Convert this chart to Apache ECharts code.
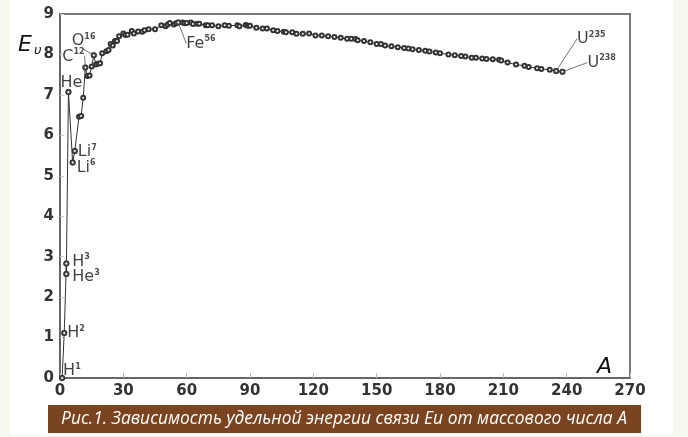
<!DOCTYPE html>
<html>
<head>
<meta charset="utf-8">
<script src="https://cdn.jsdelivr.net/npm/echarts@6/dist/echarts.min.js"></script>
<style>
  html, body { margin: 0; padding: 0; background: #f7f7ee; }
  #chart { width: 688px; height: 437px; }
</style>
</head>
<body>
<div id="chart"></div>
<script>
// mass number A and specific binding energy Eu (MeV)
var massNumber = [1, 2, 3, 3, 4, 6, 7, 9, 10, 11, 12, 13, 14, 15, 16, 17, 18, 19, 20, 22,
  23, 24, 25, 26, 27, 28, 30, 31, 32, 34, 35, 37, 39, 40, 42, 45, 48, 50, 51, 52,
  54, 55, 56, 58, 59, 60, 62, 63, 65, 66, 69, 70, 72, 75, 78, 80, 84, 85, 88, 89,
  90, 93, 96, 98, 101, 103, 106, 107, 110, 112, 115, 118, 121, 124, 127, 130, 133, 136, 138, 140,
  141, 144, 147, 150, 152, 154, 157, 160, 163, 165, 167, 170, 173, 175, 178, 180, 184, 187, 190, 192,
  195, 197, 200, 202, 205, 208, 209, 212, 216, 220, 222, 226, 228, 232, 235, 238];
var bindingEnergy = [0, 1.11, 2.83, 2.57, 7.07, 5.33, 5.61, 6.46, 6.48, 6.93, 7.68, 7.47, 7.48, 7.70, 7.98, 7.75, 7.77, 7.78, 8.03, 8.08,
  8.11, 8.26, 8.22, 8.33, 8.33, 8.45, 8.52, 8.48, 8.49, 8.58, 8.52, 8.57, 8.56, 8.60, 8.62, 8.62, 8.72, 8.70, 8.74, 8.78,
  8.74, 8.77, 8.79, 8.79, 8.77, 8.78, 8.79, 8.75, 8.76, 8.76, 8.72, 8.72, 8.72, 8.70, 8.72, 8.71, 8.72, 8.70, 8.73, 8.71,
  8.71, 8.66, 8.64, 8.64, 8.60, 8.58, 8.56, 8.55, 8.55, 8.51, 8.51, 8.52, 8.47, 8.47, 8.45, 8.43, 8.41, 8.39, 8.39, 8.38,
  8.35, 8.33, 8.30, 8.26, 8.26, 8.22, 8.20, 8.18, 8.16, 8.15, 8.13, 8.11, 8.09, 8.07, 8.05, 8.03, 8.00, 7.98, 7.96, 7.95,
  7.92, 7.92, 7.90, 7.89, 7.88, 7.87, 7.85, 7.80, 7.75, 7.72, 7.69, 7.66, 7.64, 7.62, 7.59, 7.57];

// labelled isotopes
var tagElement = ['H', 'H', 'H', 'He', 'He', 'Li', 'Li', 'C', 'O', 'Fe', 'U', 'U'];
var tagMass    = ['1', '2', '3', '3', '', '6', '7', '12', '16', '56', '235', '238'];
var tagA       = [1, 2, 3, 3, 4, 6, 7, 12, 16, 56, 235, 238];
var tagE       = [0, 1.11, 2.83, 2.57, 7.07, 5.33, 5.61, 7.68, 7.98, 8.79, 7.59, 7.57];

var captionText = 'Рис.1. Зависимость удельной энергии связи Eu от массового числа A';

// label placement (px from the point) and whether a leader line is drawn
var tagOffset = [[1, -7], [3, 0], [6, -2], [6, 3], [-8, -9], [4, 5], [3, 1], [-23, -11], [-22, -14], [8, 21], [21, -32], [25, -9]];
var tagLeader = [false, false, false, false, false, false, false, true, true, true, true, true];

var curve = massNumber.map(function (a, i) { return [a, bindingEnergy[i]]; });
var tags = tagA.map(function (a, i) {
  return {
    value: [a, tagE[i]],
    label: { formatter: '{m|' + tagElement[i] + '}{s|' + tagMass[i] + '}' },
    labelLine: { show: tagLeader[i] }
  };
});

var chart = echarts.init(document.getElementById('chart'));
var option = {
  backgroundColor: '#f7f7ee',
  animation: false,
  grid: { left: 60, right: 58, top: 14, bottom: 59, show: true, borderColor: '#7a7a7a', borderWidth: 2, backgroundColor: '#fff' },
  xAxis: {
    type: 'value', min: 0, max: 270, interval: 30,
    axisLine: { lineStyle: { color: '#666', width: 2 } },
    axisTick: { inside: true, length: 5, lineStyle: { color: '#bbb' } },
    splitLine: { show: false },
    axisLabel: { color: '#333', fontSize: 15, fontWeight: 'bold', fontFamily: 'DejaVu Sans', margin: 6 }
  },
  yAxis: {
    type: 'value', min: 0, max: 9, interval: 1,
    axisLine: { show: true, lineStyle: { color: '#666', width: 2 } },
    axisTick: { show: true, inside: true, length: 4, lineStyle: { color: '#ccc' } },
    splitLine: { show: false },
    axisLabel: { color: '#333', fontSize: 15, fontWeight: 'bold', fontFamily: 'DejaVu Sans', margin: 6 }
  },
  graphic: [
    { type: 'rect', z: -100, shape: { x: 10, y: 0, width: 663, height: 435 }, style: { fill: '#fff' } },
    { type: 'rect', shape: { x: 48, y: 405, width: 593, height: 28 }, style: { fill: '#7b4421' } },
    { type: 'text', x: 344, y: 419, style: { text: captionText, fill: '#fff', font: 'italic 17.4px "Open Sans"', textAlign: 'center', textVerticalAlign: 'middle' } },
    { type: 'text', x: 18, y: 34, style: {
        text: '{e|E}{u|υ}', fill: '#111',
        rich: { e: { fontSize: 22, fontStyle: 'italic', fontFamily: 'DejaVu Sans', fill: '#111' },
                u: { fontSize: 13, fontStyle: 'italic', fontFamily: 'DejaVu Sans', fill: '#111', padding: [10, 0, 0, 2] } } } },
    { type: 'text', x: 597, y: 356, style: { text: 'A', fill: '#111', font: 'italic 22px "DejaVu Sans"' } }
  ],
  series: [
    {
      type: 'line', data: curve, z: 3,
      symbol: 'emptyCircle', symbolSize: 4,
      lineStyle: { color: '#333', width: 1 },
      itemStyle: { color: '#333', borderColor: '#444', borderWidth: 1 }
    },
    {
      type: 'scatter', data: tags, z: 4,
      symbol: 'emptyCircle', symbolSize: 4,
      itemStyle: { color: '#333', borderColor: '#444', borderWidth: 1 },
      label: {
        show: true, color: '#111',
        rich: {
          m: { fontSize: 16, fontFamily: 'DejaVu Sans', color: '#111', lineHeight: 17 },
          s: { fontSize: 8, fontFamily: 'DejaVu Sans', fontWeight: 'bold', color: '#222', verticalAlign: 'top', lineHeight: 8 }
        }
      },
      labelLine: { lineStyle: { color: '#777', width: 1 } },
      labelLayout: function (p) {
        var off = tagOffset[p.dataIndex];
        return {
          x: p.rect.x + p.rect.width / 2 + off[0],
          y: p.rect.y + p.rect.height / 2 + off[1],
          align: 'left', verticalAlign: 'middle'
        };
      }
    }
  ]
};
chart.setOption(option);
</script>
</body>
</html>
